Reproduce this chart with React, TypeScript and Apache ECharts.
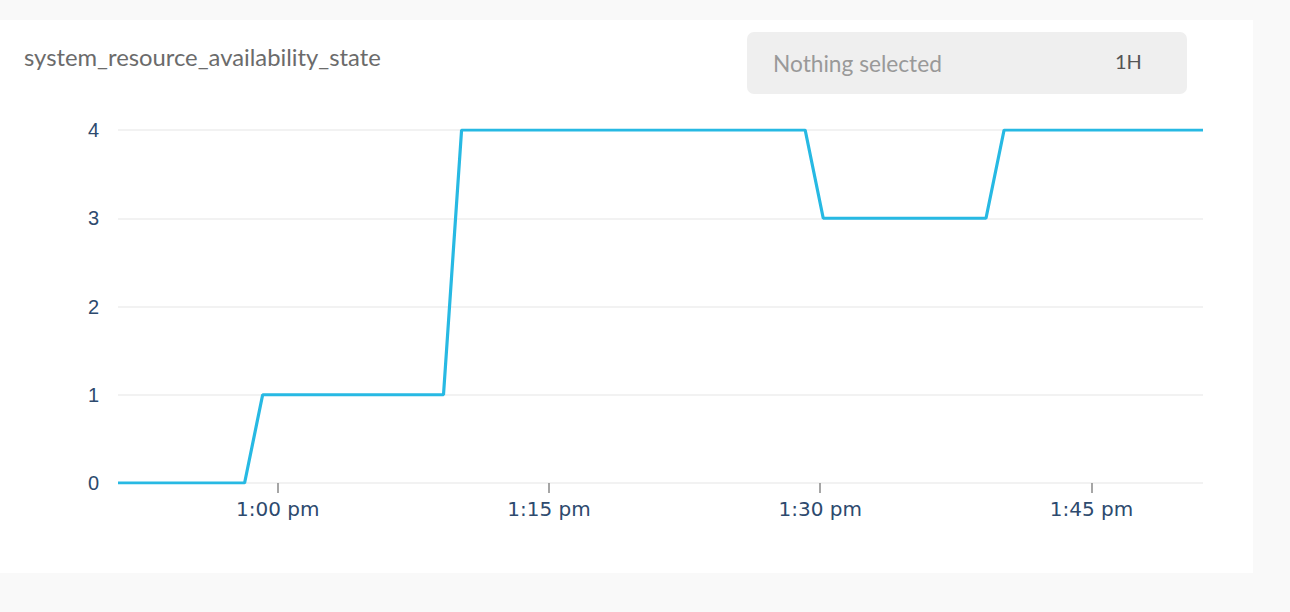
import React, { useEffect, useRef } from "react";
import * as echarts from "echarts";

const TITLE = "system_resource_availability_state";
const SELECT_TEXT = "Nothing selected";
const RANGE_TEXT = "1H";

// sample times (local clock, h:m:s) and the state value at each
const sampleTimes = [
  "12:51:10", "12:58:10", "12:59:10", "13:09:10", "13:10:10",
  "13:29:10", "13:30:10", "13:39:10", "13:40:10", "13:51:10",
];
const stateValues = [0, 0, 1, 1, 4, 4, 3, 3, 4, 4];

const axisStart = "12:51:10";
const axisEnd = "13:51:10";

const tickTimes = ["13:00:00", "13:15:00", "13:30:00", "13:45:00"];
const tickLabels = ["1:00 pm", "1:15 pm", "1:30 pm", "1:45 pm"];

const yTicks = [0, 1, 2, 3, 4];

function toMs(s: string): number {
  const [h, m, sec] = s.split(":").map(Number);
  return new Date(2024, 4, 14, h, m, sec).getTime();
}

export default function App() {
  const ref = useRef<HTMLDivElement>(null);

  useEffect(() => {
    document.body.style.margin = "0";
    if (!ref.current) return;
    const chart = echarts.init(ref.current, undefined, { renderer: "svg" });
    const tickMs = tickTimes.map(toMs);
    const option: any = {
      animation: false,
      backgroundColor: "#f9f9f9",
      graphic: [
        {
          type: "rect",
          z: -100,
          silent: true,
          shape: { x: 0, y: 20, width: 1253, height: 553 },
          style: { fill: "#ffffff" },
        },
        {
          type: "text",
          z: 11,
          silent: true,
          x: 24,
          y: 57,
          style: {
            text: TITLE,
            fontFamily: "Lato",
            fontSize: 23.8,
            fill: "#6b6b6b",
            verticalAlign: "middle",
          },
        },
        {
          type: "rect",
          z: 10,
          silent: true,
          shape: { x: 747, y: 32, width: 440, height: 62, r: 7 },
          style: { fill: "#efefef" },
        },
        {
          type: "text",
          z: 11,
          silent: true,
          x: 773,
          y: 63,
          style: {
            text: SELECT_TEXT,
            fontFamily: "Lato",
            fontSize: 22.7,
            fill: "#999999",
            verticalAlign: "middle",
          },
        },
        {
          type: "text",
          z: 11,
          silent: true,
          x: 1115,
          y: 61,
          style: {
            text: RANGE_TEXT,
            fontFamily: "Lato",
            fontSize: 20,
            fill: "#555555",
            verticalAlign: "middle",
          },
        },
      ],
      grid: { left: 118, right: 87, top: 130, bottom: 129, containLabel: false },
      xAxis: {
        type: "value",
        min: toMs(axisStart),
        max: toMs(axisEnd),
        axisLine: { show: false },
        splitLine: { show: false },
        axisTick: {
          show: true,
          customValues: tickMs,
          length: 10,
          lineStyle: { color: "#888888", width: 1.5 },
        },
        axisLabel: {
          customValues: tickMs,
          margin: 16,
          fontFamily: "DejaVu Sans",
          fontSize: 20,
          color: "#2d4a6e",
          formatter: (v: number) => {
            const i = tickMs.indexOf(v);
            return i >= 0 ? tickLabels[i] : "";
          },
        },
      },
      yAxis: {
        type: "value",
        min: yTicks[0],
        max: yTicks[yTicks.length - 1],
        interval: 1,
        axisLine: { show: false },
        axisTick: { show: false },
        splitLine: { lineStyle: { color: "#eeeeee", width: 1.5 } },
        axisLabel: {
          margin: 19,
          fontFamily: "Liberation Sans",
          fontSize: 20,
          color: "#2d4a6e",
        },
      },
      series: [
        {
          type: "line",
          data: sampleTimes.map((t, i) => [toMs(t), stateValues[i]]),
          showSymbol: false,
          symbol: "none",
          lineStyle: { color: "#27b9e3", width: 3.2 },
          itemStyle: { color: "#27b9e3" },
        },
      ],
    };
    chart.setOption(option);
    return () => chart.dispose();
  }, []);

  return <div ref={ref} style={{ width: 1290, height: 612 }} />;
}
